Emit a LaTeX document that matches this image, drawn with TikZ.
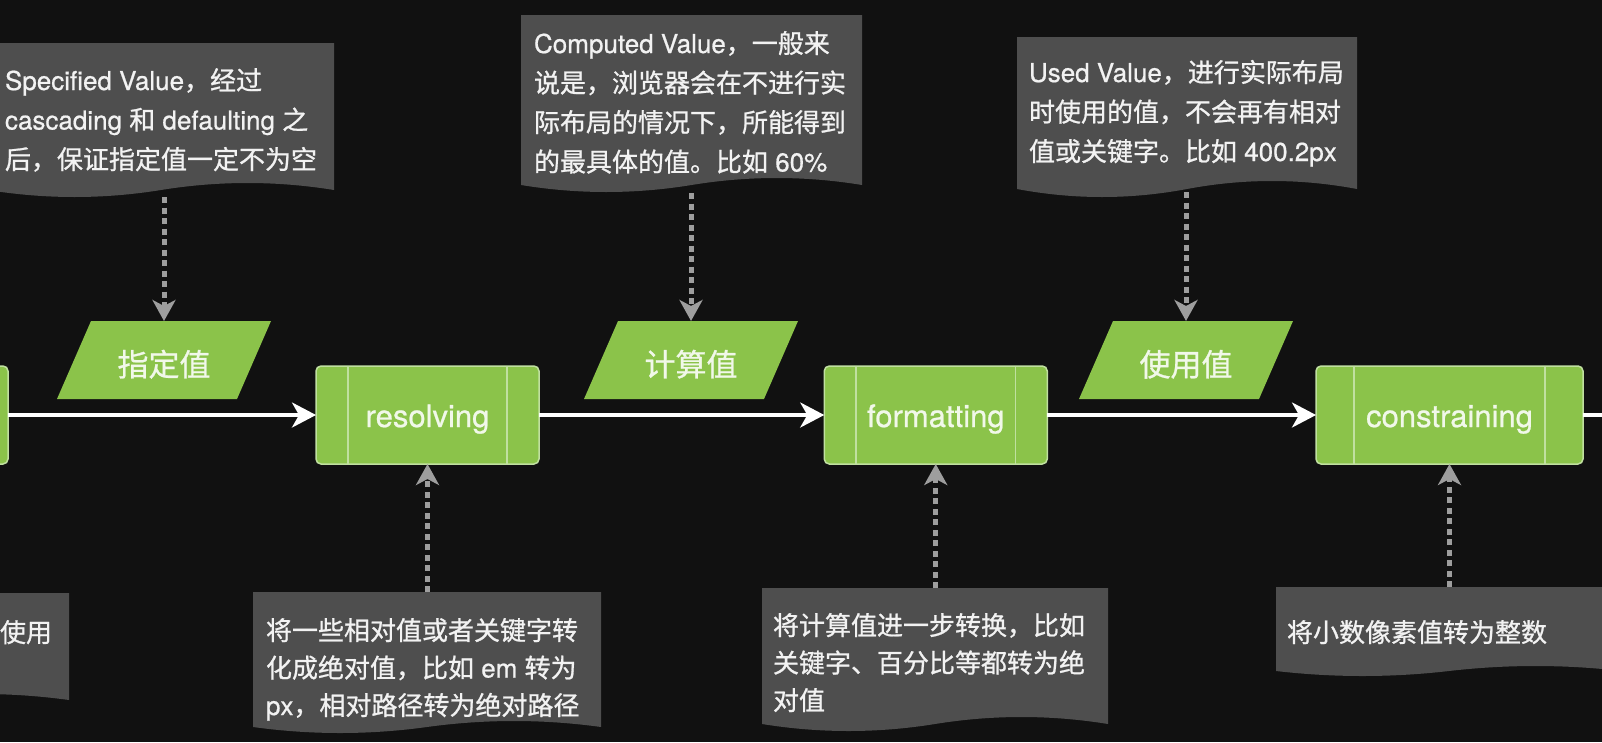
\documentclass[tikz,border=0pt]{standalone}
\usepackage{fontspec}
\setmainfont{TeX Gyre Heros}[FakeBold=0.7]
\newfontfamily\cjk{Noto Sans CJK SC}[FakeBold=0.9]
\usetikzlibrary{arrows.meta,calc}
\definecolor{bgc}{HTML}{111111}
\definecolor{notefill}{HTML}{4E4E4E}
\definecolor{notetext}{HTML}{F2F2F2}
\definecolor{procgreen}{HTML}{8BC34A}
\definecolor{procline}{HTML}{C0E0A0}
\definecolor{proctext}{HTML}{F1F8E9}
\definecolor{dotgray}{HTML}{9E9E9E}
% document shape: x0, x1, top, bottom end height, wave amplitude
\newcommand\docshape[5]{%
  \fill[notefill] (#1,#3) -- (#2,#3) -- (#2,#4)
    .. controls ({#1+(#2-#1)*5/6},{#4-1.3333*#5}) and ({#1+(#2-#1)*2/3},{#4-1.3333*#5}) .. ({(#1+#2)/2},#4)
    .. controls ({#1+(#2-#1)/3},{#4+1.3333*#5}) and ({#1+(#2-#1)/6},{#4+1.3333*#5}) .. (#1,#4) -- cycle;}
\begin{document}
\begin{tikzpicture}[x=1pt,y=-1pt,
  notetxt/.style={inner sep=0pt, outer sep=0pt, anchor=north west, align=left, text=notetext,
    font=\fontsize{26}{39.5}\selectfont},
  notetxtb/.style={notetxt, font=\fontsize{26}{37.5}\selectfont},
  proc/.style={draw=procline, line width=1.5pt, fill=procgreen, rounded corners=5pt,
    minimum height=98pt, inner sep=0pt, outer sep=0pt, text=proctext,
    font=\fontsize{31}{37}\selectfont, text height=30pt, text depth=6pt},
  procsep/.style={draw=procline, line width=1.5pt},
  plabel/.style={minimum width=180pt, minimum height=78pt, inner sep=0pt, outer sep=0pt,
    text=proctext, font=\cjk\fontsize{31}{37}\selectfont, text height=34pt, text depth=2pt},
  dotarrow/.style={draw=dotgray, line width=5pt, dash pattern=on 6pt off 4.5pt,
    -{Stealth[length=21pt,width=23pt,inset=6pt]}},
  mainarrow/.style={draw=white, line width=3.5pt, -{Stealth[length=24pt,width=25pt,inset=7pt]}}
]
\useasboundingbox (0,0) rectangle (1602,742);
\fill[bgc] (0,0) rectangle (1602,742);
\clip (0,0) rectangle (1602,742);

% note shapes
\docshape{-12}{334}{43}{190}{7}
\docshape{521}{862}{15}{185}{7}
\docshape{1017}{1357}{37}{189}{8}
\docshape{-280}{69}{593}{700}{6}
\docshape{253}{601}{592}{727}{6}
\docshape{762}{1108}{588}{724}{7}
\docshape{1276}{1622}{587}{671}{5}

% parallelogram fills
\fill[procgreen] (57,399) -- (237,399) -- (271,321) -- (91,321) -- cycle;
\fill[procgreen] (584,399) -- (764,399) -- (798,321) -- (618,321) -- cycle;
\fill[procgreen] (1079,399) -- (1259,399) -- (1293,321) -- (1113,321) -- cycle;

% note texts
\node[notetxt] (sptxt) at (5,66) {\rule{0pt}{24pt}Specified Value{\cjk ，经过}\\cascading {\cjk 和} defaulting {\cjk 之}\\{\cjk 后，保证指定值一定不为空}};
\node[notetxt] (cvtxt) at (534,29) {\rule{0pt}{24pt}Computed Value{\cjk ，一般来}\\{\cjk 说是，浏览器会在不进行实}\\{\cjk 际布局的情况下，所能得到}\\{\cjk 的最具体的值。比如} 60\%};
\node[notetxt] (uvtxt) at (1029,58) {\rule{0pt}{24pt}Used Value{\cjk ，进行实际布局}\\{\cjk 时使用的值，不会再有相对}\\{\cjk 值或关键字。比如} 400.2px};
\node[notetxtb] (lbtxt) at (0,618) {\rule{0pt}{24pt}{\cjk 使用}};
\node[notetxtb] (rstxt) at (266,616) {\rule{0pt}{24pt}{\cjk 将一些相对值或者关键字转}\\{\cjk 化成绝对值，比如} em {\cjk 转为}\\px{\cjk ，相对路径转为绝对路径}};
\node[notetxtb] (fmtxt) at (773,611) {\rule{0pt}{24pt}{\cjk 将计算值进一步转换，比如}\\{\cjk 关键字、百分比等都转为绝}\\{\cjk 对值}};
\node[notetxtb] (cstxt) at (1287,618) {\rule{0pt}{24pt}{\cjk 将小数像素值转为整数}};

% parallelogram labels
\node[plabel] (spv) at (164,360) {指定值};
\node[plabel] (cvv) at (691,360) {计算值};
\node[plabel] (uvv) at (1186,360) {使用值};

% process boxes
\node[proc, minimum width=223pt] (lb) at (-103.5,415) {};
\node[proc, minimum width=223pt] (rs) at (427.5,415) {resolving};
\node[proc, minimum width=223pt] (fm) at (935.75,415) {formatting};
\node[proc, minimum width=267pt] (cs) at (1449.5,415) {constraining};
\foreach \n in {rs,fm,cs}{
  \draw[procsep] ($(\n.north west)!0.143!(\n.north east)$) -- ($(\n.south west)!0.143!(\n.south east)$);
  \draw[procsep] ($(\n.north east)!0.143!(\n.north west)$) -- ($(\n.south east)!0.143!(\n.south west)$);
}

% free ends of connectors
\coordinate (spb) at (164,197);
\coordinate (cvb) at (691,193);
\coordinate (uvb) at (1186,192);
\coordinate (rst) at (427.5,592);
\coordinate (fmt) at (935.75,588);
\coordinate (cst) at (1449.5,587);
\coordinate (rend) at (1640,415);

% dotted connectors
\draw[dotarrow] (spb) -- (spb |- spv.north);
\draw[dotarrow] (cvb) -- (cvb |- cvv.north);
\draw[dotarrow] (uvb) -- (uvb |- uvv.north);
\draw[dotarrow] (rst) -- (rs.south);
\draw[dotarrow] (fmt) -- (fm.south);
\draw[dotarrow] (cst) -- (cs.south);

% main flow
\draw[mainarrow] (lb.east) -- (rs.west);
\draw[mainarrow] (rs.east) -- (fm.west);
\draw[mainarrow] (fm.east) -- (cs.west);
\draw[mainarrow] (cs.east) -- (rend);
\end{tikzpicture}
\end{document}
